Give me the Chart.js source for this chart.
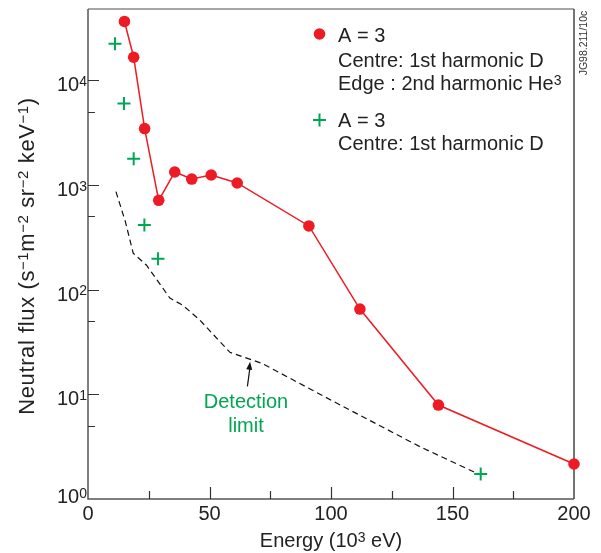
<!DOCTYPE html>
<html lang="en">
  <head>
    <meta charset="UTF-8" />
    <title>Neutral flux vs energy</title>
    <script src="https://cdn.jsdelivr.net/npm/chart.js"></script>
    <style>
      html, body { margin: 0; padding: 0; background: #fff; }
      #wrap { width: 601px; height: 553px; }
    </style>
  </head>
  <body>
    <div id="wrap"><canvas id="fluxChart" width="601" height="553"></canvas></div>
    <script>
      // energy in 10^3 eV, flux in s^-1 m^-2 sr^-2 keV^-1
      const redEnergy = [15, 18.8, 23.3, 29.1, 35.7, 42.7, 50.7, 61.4, 90.9, 111.9, 144.2, 200];
      const redFlux = [36500, 16600, 3460, 714, 1330, 1140, 1245, 1045, 406, 65.3, 7.9, 2.16];

      const greenEnergy = [11.1, 14.8, 18.8, 23.2, 28.8, 161.6];
      const greenFlux = [22400, 5990, 1780, 415, 197, 1.73];

      const limitEnergy = [11.5, 15.4, 18.6, 24.1, 33.7, 39, 46.1, 58.4, 71.5, 103.4, 122.2, 136.6, 160];
      const limitFlux = [864, 444, 223, 171, 83, 71, 51, 25.2, 19.8, 8.0, 4.73, 3.16, 1.76];

      const xTicks = [0, 50, 100, 150, 200];
      const xMinorTicks = [25, 75, 125, 175];
      const yExponents = [0, 1, 2, 3, 4];
      const yMinorTicks = [5, 50, 500, 5000];

      const RED = "#ed1c24";
      const GREEN = "#00a651";
      const FONT = '"Liberation Sans", Arial, sans-serif';

      const toPoints = (xs, ys) => xs.map((x, i) => ({ x: x, y: ys[i] }));

      // draw a run of [text, isSuperscript] pieces starting at x
      function drawRich(ctx, parts, x, y, size, align) {
        const supSize = Math.round(size * 0.68);
        let total = 0;
        parts.forEach(([t, sup]) => {
          ctx.font = (sup ? supSize : size) + "px " + FONT;
          total += ctx.measureText(t).width;
        });
        let cx = align === "center" ? x - total / 2 : align === "right" ? x - total : x;
        ctx.textAlign = "left";
        ctx.textBaseline = "alphabetic";
        parts.forEach(([t, sup]) => {
          ctx.font = (sup ? supSize : size) + "px " + FONT;
          ctx.fillText(t, cx, sup ? y - size * 0.26 : y);
          cx += ctx.measureText(t).width;
        });
        ctx.font = size + "px " + FONT;
      }

      const axesPlugin = {
        id: "axesPlugin",
        beforeDatasetsDraw(chart) {
          const ctx = chart.ctx;
          const { left, right, top, bottom } = chart.chartArea;
          const xs = chart.scales.x;
          const ys = chart.scales.y;
          ctx.save();

          // frame
          ctx.lineWidth = 1.5;
          ctx.strokeStyle = "#888";
          ctx.beginPath();
          ctx.moveTo(left, top);
          ctx.lineTo(right, top);
          ctx.stroke();
          ctx.strokeStyle = "#444";
          ctx.beginPath();
          ctx.moveTo(right, top);
          ctx.lineTo(right, bottom);
          ctx.stroke();
          ctx.strokeStyle = "#555";
          ctx.beginPath();
          ctx.moveTo(left, top);
          ctx.lineTo(left, bottom);
          ctx.lineTo(right, bottom);
          ctx.stroke();

          // inward ticks
          ctx.lineWidth = 1.2;
          ctx.strokeStyle = "#333";
          ctx.beginPath();
          xTicks.forEach((v) => {
            if (v === 0 || v === 200) return;
            const px = Math.round(xs.getPixelForValue(v)) + 0.5;
            ctx.moveTo(px, bottom);
            ctx.lineTo(px, bottom - 12);
          });
          xMinorTicks.forEach((v) => {
            const px = Math.round(xs.getPixelForValue(v)) + 0.5;
            ctx.moveTo(px, bottom);
            ctx.lineTo(px, bottom - 8);
          });
          yExponents.forEach((e) => {
            if (e === 0) return;
            const py = Math.round(ys.getPixelForValue(Math.pow(10, e))) + 0.5;
            ctx.moveTo(left, py);
            ctx.lineTo(left + 11, py);
          });
          yMinorTicks.forEach((v) => {
            const py = Math.round(ys.getPixelForValue(v)) + 0.5;
            ctx.moveTo(left, py);
            ctx.lineTo(left + 7, py);
          });
          ctx.stroke();

          // tick labels
          ctx.fillStyle = "#222";
          ctx.font = "20px " + FONT;
          ctx.textAlign = "center";
          ctx.textBaseline = "alphabetic";
          xTicks.forEach((v) => {
            ctx.fillText(String(v), xs.getPixelForValue(v), bottom + 21);
          });
          yExponents.forEach((e) => {
            const py = ys.getPixelForValue(Math.pow(10, e));
            drawRich(ctx, [["10", false], [String(e), true]], left - 1, py + (e === 0 ? 4 : 11), 20, "right");
          });

          // axis titles
          drawRich(ctx, [["Energy (10", false], ["3", true], [" eV)", false]], (left + right) / 2, 547, 20, "center");
          ctx.save();
          ctx.translate(34, 256);
          ctx.rotate(-Math.PI / 2);
          ctx.letterSpacing = "0.6px";
          drawRich(ctx, [
            ["Neutral flux (s", false], ["\u22121", true], ["m", false], ["\u22122", true],
            [" sr", false], ["\u22122", true], [" keV", false], ["\u22121", true], [")", false]
          ], 0, 0, 22, "center");
          ctx.restore();
          ctx.restore();
        },
        afterDraw(chart) {
          const ctx = chart.ctx;
          const xs = chart.scales.x;
          const ys = chart.scales.y;
          ctx.save();

          // detection limit note with arrow
          const tipX = xs.getPixelForValue(66.7), tipY = ys.getPixelForValue(20.5);
          const tailX = xs.getPixelForValue(65.6), tailY = ys.getPixelForValue(11.9);
          ctx.strokeStyle = "#111";
          ctx.fillStyle = "#111";
          ctx.lineWidth = 1.2;
          ctx.beginPath();
          ctx.moveTo(tailX, tailY);
          ctx.lineTo(tipX, tipY + 5);
          ctx.stroke();
          const ang = Math.atan2(tipY - tailY, tipX - tailX);
          ctx.beginPath();
          ctx.moveTo(tipX, tipY);
          ctx.lineTo(tipX - 8 * Math.cos(ang) + 3 * Math.sin(ang), tipY - 8 * Math.sin(ang) - 3 * Math.cos(ang));
          ctx.lineTo(tipX - 8 * Math.cos(ang) - 3 * Math.sin(ang), tipY - 8 * Math.sin(ang) + 3 * Math.cos(ang));
          ctx.closePath();
          ctx.fill();

          ctx.fillStyle = GREEN;
          ctx.font = "20px " + FONT;
          ctx.textAlign = "center";
          ctx.fillText("Detection", 246, 408);
          ctx.fillText("limit", 246, 432);

          // legend
          ctx.fillStyle = RED;
          ctx.beginPath();
          ctx.arc(319.5, 34, 5.8, 0, Math.PI * 2);
          ctx.fill();
          ctx.strokeStyle = GREEN;
          ctx.lineWidth = 2;
          ctx.beginPath();
          ctx.moveTo(313, 120);
          ctx.lineTo(326, 120);
          ctx.moveTo(319.5, 113.5);
          ctx.lineTo(319.5, 126.5);
          ctx.stroke();

          ctx.fillStyle = "#222";
          ctx.font = "20px " + FONT;
          ctx.textAlign = "left";
          ctx.fillText("A = 3", 338, 42);
          ctx.fillText("Centre: 1st harmonic D", 338, 67);
          drawRich(ctx, [["Edge : 2nd harmonic He", false], ["3", true]], 338, 90, 20, "left");
          ctx.fillText("A = 3", 338, 127);
          ctx.fillText("Centre: 1st harmonic D", 338, 150);

          // figure reference
          ctx.save();
          ctx.translate(587, 43);
          ctx.rotate(-Math.PI / 2);
          ctx.font = "10.5px " + FONT;
          ctx.textAlign = "center";
          ctx.fillStyle = "#333";
          ctx.fillText("JG98.211/10c", 0, 0);
          ctx.restore();

          ctx.restore();
        },
      };

      const ctx = document.getElementById("fluxChart").getContext("2d");
      new Chart(ctx, {
        type: "scatter",
        data: {
          datasets: [
            {
              label: "Detection limit",
              data: toPoints(limitEnergy, limitFlux),
              showLine: true,
              borderColor: "#111",
              borderWidth: 1.2,
              borderDash: [6, 4],
              pointRadius: 0,
              clip: false,
            },
            {
              label: "A = 3, centre 1st harmonic D, edge 2nd harmonic He3",
              data: toPoints(redEnergy, redFlux),
              showLine: true,
              borderColor: RED,
              borderWidth: 1.5,
              backgroundColor: RED,
              pointBackgroundColor: RED,
              pointBorderWidth: 0,
              pointRadius: 5.8,
              clip: false,
            },
            {
              label: "A = 3, centre 1st harmonic D",
              data: toPoints(greenEnergy, greenFlux),
              showLine: false,
              pointStyle: "cross",
              pointRadius: 6.5,
              pointBorderColor: GREEN,
              pointBorderWidth: 2,
              clip: false,
            },
          ],
        },
        options: {
          responsive: false,
          animation: false,
          layout: { padding: { left: 88, right: 27, top: 9, bottom: 54 } },
          scales: {
            x: { type: "linear", min: 0, max: 200, display: false },
            y: { type: "logarithmic", min: 1, max: 48000, display: false },
          },
          plugins: {
            legend: { display: false },
            tooltip: { enabled: false },
          },
        },
        plugins: [axesPlugin],
      });
    </script>
  </body>
</html>
